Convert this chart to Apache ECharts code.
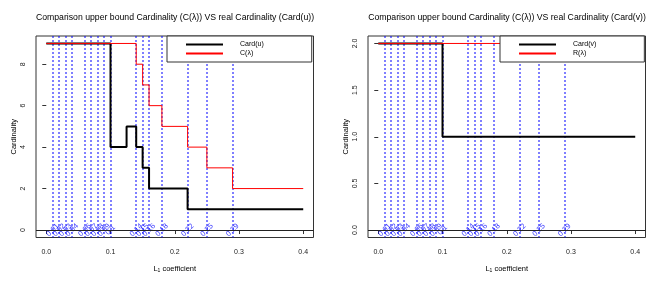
<!DOCTYPE html>
<html><head><meta charset="utf-8">
<script src="https://cdn.jsdelivr.net/npm/echarts@6/dist/echarts.min.js"></script>
<style>html,body{margin:0;padding:0;background:#fff}#c{width:664px;height:283px}</style>
</head><body><div id="c"></div>
<script>
// ---- data ----
const lambdas = [0.01,0.02,0.03,0.04,0.06,0.07,0.08,0.09,0.10,0.14,0.15,0.16,0.18,0.22,0.25,0.29];
const lambdaLabels = ['0.01','0.02','0.03','0.04','0.06','0.07','0.08','0.09','0.1','0.14','0.15','0.16','0.18','0.22','0.25','0.29'];
const cardUx = [0,0.10,0.125,0.14,0.15,0.16,0.22,0.40];
const cardUy = [9,4,5,4,3,2,1,1];
const cLamX = [0,0.14,0.15,0.16,0.18,0.22,0.25,0.29,0.40];
const cLamY = [9,8,7,6,5,4,3,2,2];
const cardVx = [0,0.10,0.40];
const cardVy = [2,1,1];
const rLamX = [0,0.40];
const rLamY = [2,2];
const xTicks = [0,0.1,0.2,0.3,0.4];
const yTicksL = [0,2,4,6,8];
const yTicksR = [0,0.5,1,1.5,2];
const titleL = 'Comparison upper bound Cardinality (C(λ)) VS real Cardinality (Card(u))';
const titleR = 'Comparison upper bound Cardinality (C(λ)) VS real Cardinality (Card(v))';

const FONT = 'Liberation Sans, Arial, sans-serif';
const zip = (xs, ys) => xs.map((x, i) => [x, ys[i]]);

function xAxis(idx) {
  return {
    type: 'value', gridIndex: idx, min: -0.016, max: 0.416,
    name: '{a|L}{s|1}{a| coefficient}', nameLocation: 'middle', nameGap: 27,
    nameTextStyle: { rich: { a: { fontSize: 7.5, fontFamily: FONT, color: '#000' }, s: { fontSize: 5, fontFamily: FONT, color: '#000', padding: [4, 0, 0, 0] } } },
    axisLine: { show: false },
    splitLine: { show: false },
    axisTick: { show: true, length: 4, customValues: xTicks, lineStyle: { color: '#333' } },
    axisLabel: { customValues: xTicks, margin: 11, fontSize: 7, fontFamily: FONT, color: '#222', formatter: v => v.toFixed(1) }
  };
}
function yAxis(idx, min, max, ticks, fmt) {
  return {
    type: 'value', gridIndex: idx, min: min, max: max,
    name: 'Cardinality', nameLocation: 'middle', nameGap: 18,
    nameTextStyle: { fontSize: 7.5, fontFamily: FONT, color: '#000' },
    axisLine: { show: false },
    splitLine: { show: false },
    axisTick: { show: true, length: 4, customValues: ticks, lineStyle: { color: '#333' } },
    axisLabel: { customValues: ticks, rotate: 90, margin: 9, fontSize: 7, fontFamily: FONT, color: '#222', formatter: fmt }
  };
}
function vLineSeries(idx) {
  return {
    type: 'custom', xAxisIndex: idx, yAxisIndex: idx, z: 1, silent: true,
    data: lambdas.map(l => [l]),
    encode: { x: 0 },
    clip: false,
    renderItem: function (params, api) {
      const cs = params.coordSys;
      const p = api.coord([api.value(0), 0]);
      const x = Math.round(p[0]);
      return {
        type: 'line',
        shape: { x1: x, y1: cs.y, x2: x, y2: cs.y + cs.height },
        style: { stroke: '#0000FF', lineWidth: 1, lineDash: [2, 2] }
      };
    }
  };
}
function labelSeries(idx) {
  return {
    type: 'scatter', xAxisIndex: idx, yAxisIndex: idx, z: 4,
    symbol: 'circle', symbolSize: 0, itemStyle: { color: '#0000FF' },
    silent: true,
    data: lambdas.map((l, i) => ({ value: [l, 0], name: lambdaLabels[i] })),
    label: { show: true, position: 'inside', rotate: 45, color: '#0000FF', fontSize: 7.5, fontFamily: FONT,
             formatter: p => p.name },
    labelLayout: { hideOverlap: false },
    markLine: {
      silent: true, symbol: ['none', 'none'], label: { show: false },
      lineStyle: { color: '#222', type: 'solid', width: 1 },
      data: [{ yAxis: 0 }]
    }
  };
}
function lineSeries(idx, name, xs, ys, color, width) {
  return {
    type: 'line', name: name, xAxisIndex: idx, yAxisIndex: idx, step: 'end', symbol: 'none', showSymbol: false,
    z: 3, silent: true, data: zip(xs, ys), lineStyle: { color: color, width: width }, itemStyle: { color: color }
  };
}
function legend(left, names) {
  return {
    left: left, top: 36, orient: 'vertical', data: names,
    backgroundColor: '#fff', borderColor: '#333', borderWidth: 1, borderRadius: 0,
    padding: [5, 48, 5, 18], itemWidth: 37, itemHeight: 7, itemGap: 2,
    itemStyle: { opacity: 0 },
    textStyle: { fontSize: 7, fontFamily: FONT, color: '#000', padding: [0, 0, 0, 12] },
    selectedMode: false, z: 10
  };
}

const chart = echarts.init(document.getElementById('c'), null, { renderer: 'canvas' });
chart.setOption({
  animation: false,
  backgroundColor: '#fff',
  title: [
    { text: titleL, left: 170, top: 8, textAlign: 'center', textStyle: { fontSize: 8.7, fontWeight: 'normal', fontFamily: FONT, color: '#000' } },
    { text: titleR, left: 502, top: 8, textAlign: 'center', textStyle: { fontSize: 8.7, fontWeight: 'normal', fontFamily: FONT, color: '#000' } }
  ],
  grid: [
    { left: 36, right: 350.5, top: 36, bottom: 45.5, show: true, borderColor: '#333', borderWidth: 1, backgroundColor: 'transparent' },
    { left: 368, right: 18.5, top: 36, bottom: 45.5, show: true, borderColor: '#333', borderWidth: 1, backgroundColor: 'transparent' }
  ],
  legend: [legend(167, ['Card(u)', 'C(λ)']), legend(500, ['Card(v)', 'R(λ)'])],
  xAxis: [xAxis(0), xAxis(1)],
  yAxis: [yAxis(0, -0.36, 9.36, yTicksL, v => String(v)), yAxis(1, -0.08, 2.08, yTicksR, v => v.toFixed(1))],
  series: [
    vLineSeries(0),
    labelSeries(0),
    lineSeries(0, 'Card(u)', cardUx, cardUy, '#000', 2),
    lineSeries(0, 'C(λ)', cLamX, cLamY, '#FF0000', 1),
    vLineSeries(1),
    labelSeries(1),
    lineSeries(1, 'Card(v)', cardVx, cardVy, '#000', 2),
    lineSeries(1, 'R(λ)', rLamX, rLamY, '#FF0000', 1)
  ]
});
</script></body></html>
